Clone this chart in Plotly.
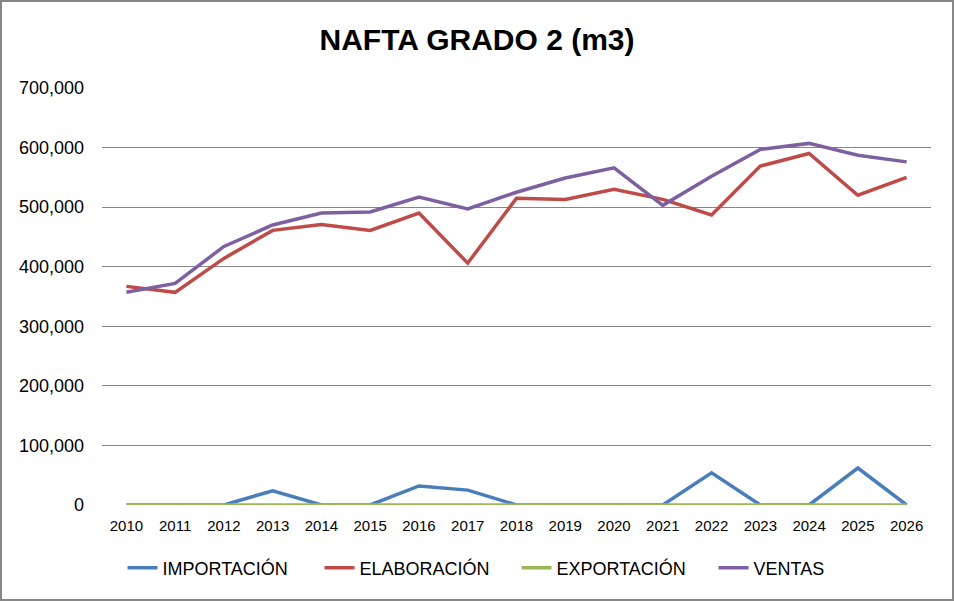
import plotly.graph_objects as go

years = [str(y) for y in range(2010, 2027)]
importacion = [0, 0, 0, 24000, 0, 0, 32000, 25000, 0, 0, 0, 0, 54000, 0, 0, 62000, 0]
elaboracion = [367000, 357000, 414000, 461000, 471000, 461000, 490000, 406000, 515000, 513000, 530000, 513000, 487000, 569000, 590000, 520000, 550000]
exportacion = [0] * 17
ventas = [357000, 372000, 434000, 470000, 490000, 492000, 517000, 497000, 525000, 549000, 566000, 503000, 552000, 597000, 607000, 587000, 576000]

series = [
    ("IMPORTACIÓN", importacion, "#4A7EBB"),
    ("ELABORACIÓN", elaboracion, "#BE4B48"),
    ("EXPORTACIÓN", exportacion, "#98B954"),
    ("VENTAS", ventas, "#7D60A0"),
]

fig = go.Figure()
for name, vals, col in series:
    fig.add_trace(go.Scatter(x=years, y=vals, name=name, mode="lines",
                             line=dict(color=col, width=3.5)))

W, H = 954, 601
ml, mr, mt, mb = 102, 23, 88, 96
pw, ph = W - ml - mr, H - mt - mb

fig.update_layout(
    width=W, height=H,
    margin=dict(l=ml, r=mr, t=mt, b=mb, autoexpand=False),
    paper_bgcolor="white", plot_bgcolor="white",
    font=dict(family="Liberation Sans", color="#000000"),
    title=dict(text="<b>NAFTA GRADO 2 (m3)</b>", x=0.5, xanchor="center",
               y=1 - 39 / H, yanchor="middle",
               font=dict(size=30, family="Liberation Sans")),
    xaxis=dict(type="category", range=[-0.5, 16.5], showgrid=False,
               showline=False, ticks="", tickfont=dict(size=15), zeroline=False,
               ticklabelstandoff=10),
    yaxis=dict(range=[0, 700000], dtick=100000, tickformat=",",
               showgrid=True, gridcolor="#868686", gridwidth=1,
               showline=False, zeroline=False, ticks="", tickfont=dict(size=18),
               ticklabelstandoff=17),
    legend=dict(orientation="h", x=0.5, xanchor="center", y=-(568 - mt - ph) / ph,
                yanchor="middle", font=dict(size=18), entrywidth=152,
                entrywidthmode="pixels", traceorder="normal"),
    showlegend=True,
)

fig.add_shape(type="rect", xref="paper", yref="paper",
              x0=(1 - ml) / pw, x1=1 + (mr - 1) / pw,
              y0=-(mb - 1) / ph, y1=1 + (mt - 1) / ph,
              line=dict(color="#868686", width=2))

fig.write_html("out.html", config={"displayModeBar": False},
               post_script="document.body.style.margin='0px';document.body.style.overflow='hidden';")
